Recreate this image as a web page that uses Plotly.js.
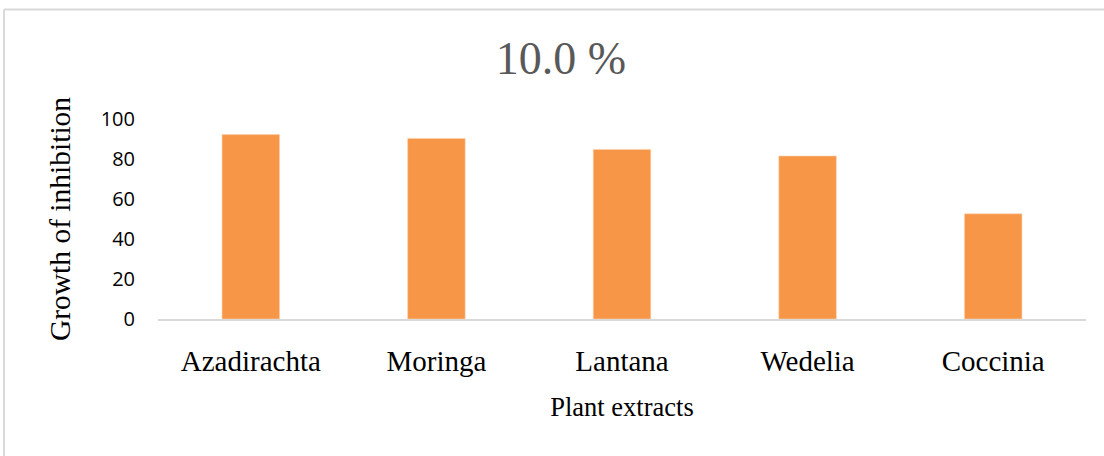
<!DOCTYPE html>
<html>
<head>
<meta charset="utf-8">
<script src="https://cdn.plot.ly/plotly-3.0.1.min.js"></script>
<style>html,body{margin:0;padding:0;background:#fff;}#chart{width:1104px;height:456px;}</style>
</head>
<body>
<div id="chart"></div>
<script>
const categories = ["Azadirachta", "Moringa", "Lantana", "Wedelia", "Coccinia"];
const inhibition = [92.2, 90.3, 84.8, 81.5, 52.6];
const yTicks = [0, 20, 40, 60, 80, 100];
const chartTitle = "10.0 %";
const xTitle = "Plant extracts";
const yTitle = "Growth of inhibition";

const serif = "Liberation Serif, Times New Roman, serif";
const trace = {
  type: "bar",
  x: categories,
  y: inhibition,
  marker: {color: "#F79646", line: {color: "#FBD3B3", width: 0.6}},
  width: 0.31,
  hoverinfo: "x+y"
};
const layout = {
  width: 1104, height: 456,
  margin: {l: 158, r: 18, t: 119, b: 137},
  paper_bgcolor: "#ffffff", plot_bgcolor: "#ffffff",
  showlegend: false,
  title: {text: chartTitle, font: {family: serif, size: 46, color: "#595959"},
          xref: "container", yref: "container", x: 0.508, y: 0.872, xanchor: "center", yanchor: "middle"},
  xaxis: {
    showgrid: false, zeroline: false, showline: true, linecolor: "#d9d9d9", linewidth: 2,
    ticks: "", tickfont: {family: serif, size: 29, color: "#000"}, ticklabelstandoff: 15,
    title: {text: xTitle, font: {family: serif, size: 26.5, color: "#000"}, standoff: 22}
  },
  yaxis: {
    range: [0, 100], tickvals: yTicks, showgrid: false, zeroline: false, showline: false,
    ticks: "", tickfont: {family: "Open Sans, Liberation Sans, sans-serif", size: 20, color: "#000"},
    ticklabelstandoff: 22,
    title: {text: yTitle, font: {family: serif, size: 29.5, color: "#000"}, standoff: 21}
  },
  shapes: [
    {type: "line", xref: "paper", yref: "paper", x0: -154/928, x1: 1.03, y0: (319-9.5)/200, y1: (319-9.5)/200,
     line: {color: "#d9d9d9", width: 2}},
    {type: "line", xref: "paper", yref: "paper", x0: -154/928, x1: -154/928, y0: (319-9.5)/200, y1: -0.7,
     line: {color: "#d9d9d9", width: 2}}
  ]
};
Plotly.newPlot("chart", [trace], layout, {displayModeBar: false, staticPlot: true});
</script>
</body>
</html>
